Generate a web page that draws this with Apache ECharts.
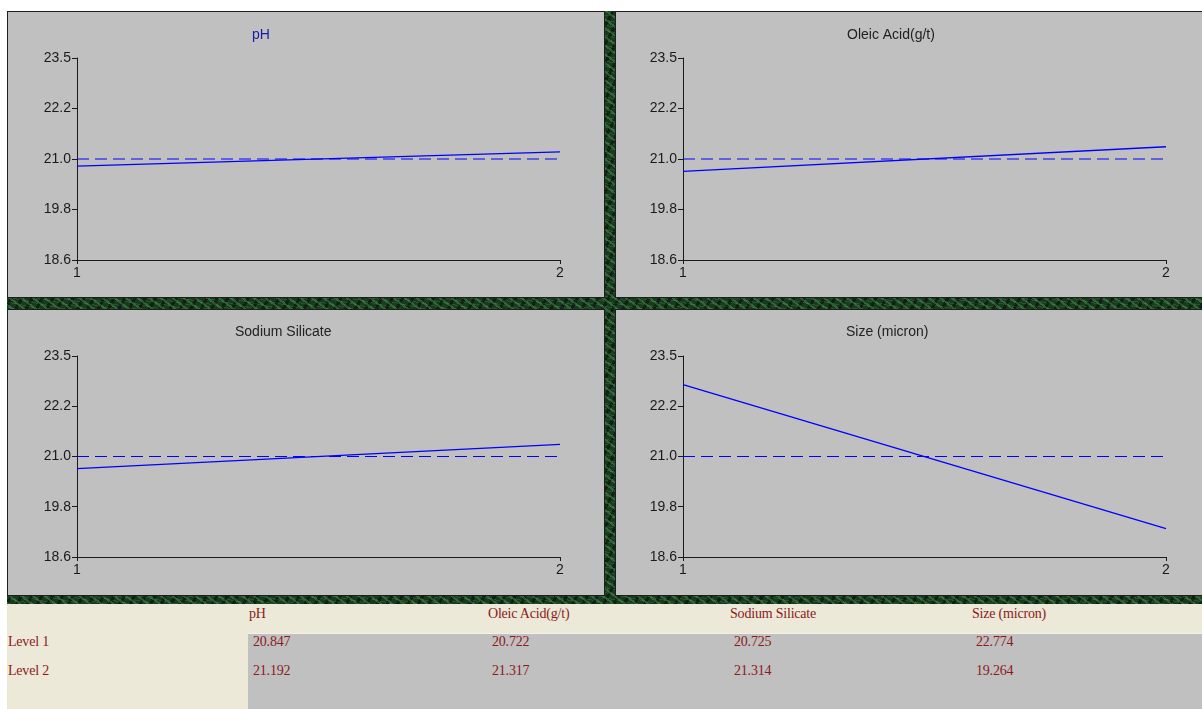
<!DOCTYPE html>
<html>
<head>
<meta charset="utf-8">
<script src="https://cdn.jsdelivr.net/npm/echarts@6/dist/echarts.min.js"></script>
<style>
  html, body { margin: 0; padding: 0; background: #fff; }
  #wrap { position: relative; width: 1202px; height: 709px; overflow: hidden; }
  /* marble-ish green frame behind the panels */
  #marble {
    position: absolute; left: 7px; top: 11px; width: 1195px; height: 593px;
    background-color: #1a3a20;
    background-image:
      repeating-linear-gradient(37deg, rgba(100,180,105,0.35) 0 2px, transparent 2px 7px),
      repeating-linear-gradient(-61deg, rgba(0,0,0,0.45) 0 3px, transparent 3px 9px),
      repeating-linear-gradient(12deg, rgba(50,130,60,0.40) 0 1px, transparent 1px 5px);
  }
  .panel { position: absolute; background: #c0c0c0; box-shadow: inset 0 0 0 1px #1e1e1e; }
  .panel > div { position: absolute; left: 0; top: 0; width: 100%; height: 100%; }
  #tbl {
    position: absolute; left: 7px; top: 604px; width: 1195px; height: 105px;
    background: #ece9d8; font-family: "Liberation Serif", "DejaVu Serif", serif;
    font-size: 14px; color: #8b1a1a;
  }
  #tbl .cells { position: absolute; left: 241px; top: 29px; right: 0; bottom: 0;
    background: #c0c0c0; border-top: 1px solid #f3f1e8; }
  #tbl span { position: absolute; white-space: nowrap; letter-spacing: -0.2px; }
</style>
</head>
<body>
<div id="wrap">
  <div id="marble"></div>
  <div id="tbl"><div class="cells"></div></div>
</div>
<script>
// factors and the mean response at each level
const factors = ['pH', 'Oleic Acid(g/t)', 'Sodium Silicate', 'Size (micron)']
const level1 = [20.847, 20.722, 20.725, 22.774]
const level2 = [21.192, 21.317, 21.314, 19.264]
const grandMean = [21.02, 21.02, 21.02, 21.02]
const levels = [1, 2]
const rowNames = ['Level 1', 'Level 2']

// y axis ticks (the tool rounds them to one decimal)
const yTicks = [18.57, 19.795, 21.02, 22.245, 23.47]
const yTickLabels = ['18.6', '19.8', '21.0', '22.2', '23.5']

// panel layout (page px) and plot area inside each panel
const panels = [
  { x: 7, y: 11, w: 598, h: 287 },
  { x: 615, y: 11, w: 590, h: 287 },
  { x: 7, y: 309, w: 598, h: 287 },
  { x: 615, y: 309, w: 590, h: 287 },
]
const grids = [
  { left: 70, top: 47, width: 483, height: 202 },
  { left: 68, top: 47, width: 483, height: 202 },
  { left: 70, top: 47, width: 483, height: 201 },
  { left: 68, top: 47, width: 483, height: 201 },
]
const titlePos = [
  { left: 240, top: 12, color: '#1a1aa8' },
  { left: 227, top: 12, color: '#222' },
  { left: 223, top: 11, color: '#222' },
  { left: 226, top: 11, color: '#222' },
]

const labelFont = { color: '#1a1a1a', fontFamily: 'Liberation Sans, Arial, sans-serif', fontSize: 14 }
const axisColor = '#1a1a1a'

function yLabel(v) {
  let best = 0
  yTicks.forEach((t, i) => {
    if (Math.abs(t - v) < Math.abs(yTicks[best] - v))
      best = i
  })
  return yTickLabels[best]
}

const wrap = document.getElementById('wrap')

factors.forEach((f, i) => {
  const p = panels[i]
  const box = document.createElement('div')
  box.className = 'panel'
  box.style.left = p.x + 'px'
  box.style.top = p.y + 'px'
  box.style.width = p.w + 'px'
  box.style.height = p.h + 'px'
  const el = document.createElement('div')
  box.appendChild(el)
  wrap.appendChild(box)

  const chart = echarts.init(el)
  chart.setOption({
    animation: false,
    backgroundColor: 'transparent',
    title: {
      text: f,
      left: titlePos[i].left,
      top: titlePos[i].top,
      textStyle: { ...labelFont, fontWeight: 'normal', color: titlePos[i].color },
    },
    grid: grids[i],
    xAxis: {
      type: 'value',
      min: levels[0],
      max: levels[1],
      interval: 1,
      splitLine: { show: false },
      axisLine: { show: true, onZero: false, lineStyle: { color: axisColor, width: 1 } },
      axisTick: { show: true, length: 4, lineStyle: { color: axisColor } },
      axisLabel: { ...labelFont, margin: 6 },
    },
    yAxis: {
      type: 'value',
      min: yTicks[0],
      max: yTicks[yTicks.length - 1],
      splitLine: { show: false },
      axisLine: { show: true, onZero: false, lineStyle: { color: axisColor, width: 1 } },
      axisTick: { show: true, length: 5, customValues: yTicks, lineStyle: { color: axisColor } },
      axisLabel: { ...labelFont, margin: 6, customValues: yTicks, formatter: yLabel },
    },
    series: [
      {
        name: f,
        type: 'line',
        symbol: 'none',
        color: '#0000ff',
        lineStyle: { color: '#0000ff', width: 1.3 },
        data: [[levels[0], level1[i]], [levels[1], level2[i]]],
      },
      {
        name: 'mean',
        type: 'line',
        symbol: 'none',
        z: 3,
        color: '#0000ff',
        lineStyle: { color: '#0000ff', width: 1.2, type: [12, 6] },
        data: [[levels[0], grandMean[i]], [levels[1], grandMean[i]]],
      },
    ],
  })
})

// summary table under the plots
const tbl = document.getElementById('tbl')
const colX = [242, 481, 723, 965]
function addText(txt, x, y) {
  const s = document.createElement('span')
  s.textContent = txt
  s.style.left = x + 'px'
  s.style.top = y + 'px'
  tbl.appendChild(s)
}
factors.forEach((f, i) => {
  addText(f, colX[i], 2)
  addText(level1[i].toFixed(3), colX[i] + 4, 30)
  addText(level2[i].toFixed(3), colX[i] + 4, 59)
})
rowNames.forEach((r, i) => addText(r, 1, 30 + i * 29))
</script>
</body>
</html>
